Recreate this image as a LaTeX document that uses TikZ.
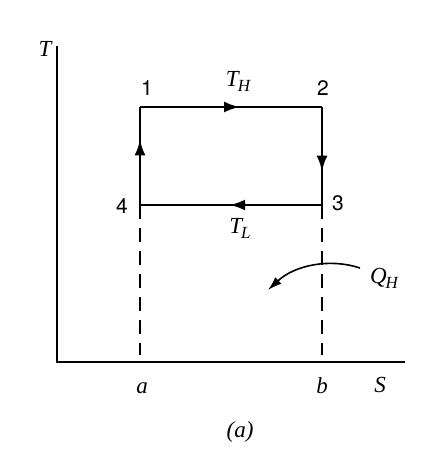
\documentclass[tikz,border=0pt]{standalone}
\usepackage{fontspec}
\newfontfamily\numfont{TeX Gyre Heros}
\newfontfamily\labfont{Liberation Serif}
\usetikzlibrary{arrows.meta,decorations.markings}
\newcommand{\lsub}[2]{#1\kern-1pt\raisebox{-5pt}{\fontsize{17}{17}\selectfont #2}}
\begin{document}
\begin{tikzpicture}[x=1pt,y=-1pt,
  axis/.style={line width=2pt},
  cyc/.style={line width=2.8pt},
  dashln/.style={line width=2.4pt,dash pattern=on 14pt off 9pt},
  num/.style={font=\numfont\fontsize{21}{21}\selectfont,inner sep=0pt},
  mlab/.style={font=\labfont\itshape\fontsize{23}{23}\selectfont,inner sep=0pt},
  midarr/.style={postaction={decorate,decoration={markings,mark=at position #1 with {\arrow{Latex[length=16pt,width=11pt]}}}}}
]
\useasboundingbox (0,0) rectangle (427,456);
\coordinate (o) at (57,362);
\coordinate (ytop) at (57,46);
\coordinate (xend) at (405,362);
\draw[axis] (ytop) -- (o) -- (xend);
\coordinate (c1) at (140,107);
\coordinate (c2) at (322,107);
\coordinate (c3) at (322,205);
\coordinate (c4) at (140,205);
\coordinate (a0) at (140,355);
\coordinate (b0) at (322,355);
\draw[cyc,midarr=0.55] (c1) -- (c2);
\draw[cyc,midarr=0.66] (c2) -- (c3);
\draw[cyc,midarr=0.51] (c3) -- (c4);
\draw[cyc,midarr=0.67] (c4) -- (c1);
\draw[dashln] (c4) -- (a0);
\draw[dashln] (c3) -- (b0);
\coordinate (qs) at (360,268);
\coordinate (qe) at (268,290);
\draw[line width=1.6pt,-{Latex[length=14pt,width=9pt]}] (qs) .. controls (330,258) and (295,265) .. (qe);
\node[mlab] (T) at (45,49) {T};
\node[mlab] (S) at (380,385) {S};
\node[mlab] (a) at (142,388) {a};
\node[mlab] (b) at (322,386) {b};
\node[mlab] (TH) at (238,81) {\lsub{T}{H}};
\node[mlab] (TL) at (240,228) {\lsub{T}{L}};
\node[mlab] (QH) at (384,278) {\lsub{Q}{H}};
\node[mlab] (cap) at (240,432) {(a)};
\node[num] (n1) at (147,88) {1};
\node[num] (n2) at (323,88) {2};
\node[num] (n3) at (338,203) {3};
\node[num] (n4) at (122,206) {4};
\end{tikzpicture}
\end{document}
